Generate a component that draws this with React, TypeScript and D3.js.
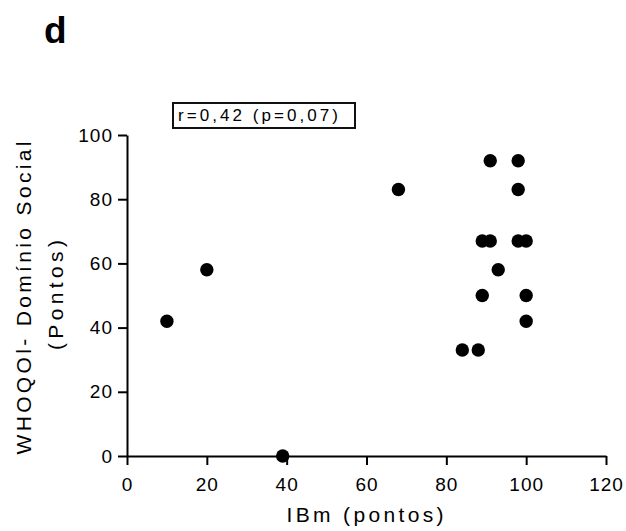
import React, { useEffect, useRef } from 'react';
import * as d3 from 'd3';

// IBm (pontos) vs WHOQOL social domain
const ibm = [10, 20, 39, 68, 91, 98, 98, 89, 91, 98, 100, 93, 89, 100, 100, 84, 88];
const dominio = [42, 58, 0, 83, 92, 92, 83, 67, 67, 67, 67, 58, 50, 50, 42, 33, 33];
const xTicks = [0, 20, 40, 60, 80, 100, 120];
const yTicks = [0, 20, 40, 60, 80, 100];
const corrLabel = 'r=0,42 (p=0,07)';
const FONT = '"Liberation Sans", Arial, sans-serif';

const App = () => {
  const svgRef = useRef<SVGSVGElement>(null);

  useEffect(() => {
    const svg = d3.select(svgRef.current);
    svg.selectAll('*').remove();

    const x = d3.scaleLinear().domain([0, 120]).range([127, 606]);
    const y = d3.scaleLinear().domain([0, 100]).range([456, 135]);

    // panel letter
    svg.append('text')
      .attr('x', 44).attr('y', 43)
      .attr('font-family', FONT).attr('font-weight', 'bold').attr('font-size', 37)
      .text('d');

    // correlation box
    svg.append('rect')
      .attr('x', 173).attr('y', 103).attr('width', 182).attr('height', 25)
      .attr('fill', 'white').attr('stroke', '#111').attr('stroke-width', 2);
    svg.append('text')
      .attr('x', 178).attr('y', 121)
      .attr('font-family', FONT).attr('font-size', 17)
      .attr('textLength', 160).attr('lengthAdjust', 'spacing')
      .text(corrLabel);

    // x axis
    const gx = svg.append('g')
      .attr('transform', `translate(0,${y(0)})`)
      .call(d3.axisBottom(x).tickValues(xTicks).tickSize(9).tickSizeOuter(0).tickPadding(13));
    // y axis
    const gy = svg.append('g')
      .attr('transform', `translate(${x(0)},0)`)
      .call(d3.axisLeft(y).tickValues(yTicks).tickSize(9).tickSizeOuter(0).tickPadding(5));

    [gx, gy].forEach(g => {
      g.select('.domain').attr('stroke', '#000').attr('stroke-width', 2);
      g.selectAll('.tick line').attr('stroke', '#000').attr('stroke-width', 2);
      g.selectAll('.tick text')
        .attr('fill', '#000')
        .attr('font-family', FONT).attr('font-size', 19)
        .attr('letter-spacing', 1);
    });

    // axis titles
    svg.append('text')
      .attr('x', 365).attr('y', 522)
      .attr('text-anchor', 'middle')
      .attr('font-family', FONT).attr('font-size', 21)
      .attr('textLength', 157).attr('lengthAdjust', 'spacing')
      .text('IBm (pontos)');

    svg.append('text')
      .attr('transform', 'translate(31,298) rotate(-90)')
      .attr('text-anchor', 'middle')
      .attr('font-family', FONT).attr('font-size', 21)
      .attr('textLength', 313).attr('lengthAdjust', 'spacing')
      .text('WHOQOl- Domínio Social');
    svg.append('text')
      .attr('transform', 'translate(63,295) rotate(-90)')
      .attr('text-anchor', 'middle')
      .attr('font-family', FONT).attr('font-size', 21)
      .attr('textLength', 110).attr('lengthAdjust', 'spacing')
      .text('(Pontos)');

    // points
    svg.append('g')
      .selectAll('circle')
      .data(ibm.map((v, i) => [v, dominio[i]]))
      .enter().append('circle')
        .attr('cx', d => x(d[0]))
        .attr('cy', d => y(d[1]))
        .attr('r', 6.7)
        .attr('fill', '#000');
  }, []);

  return (
    <svg ref={svgRef} width="626" height="531"
      style={{ position: 'absolute', left: 0, top: 0, background: 'white' }}>
    </svg>
  );
};

export default App;
